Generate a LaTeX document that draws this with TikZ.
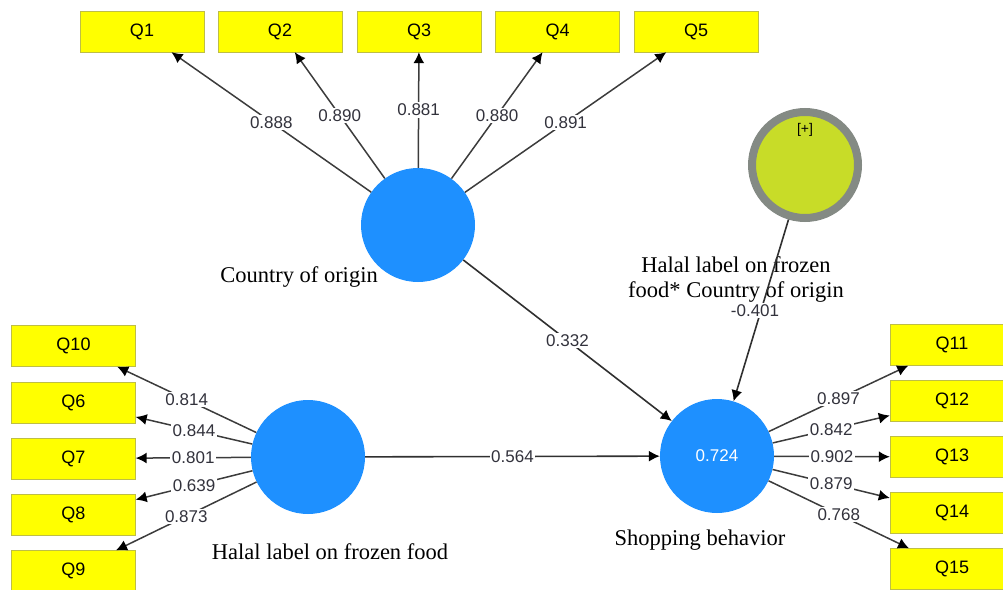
\documentclass[tikz,border=0pt]{standalone}
\usepackage{fontspec}
\setmainfont{Liberation Serif}
\newfontfamily\plsfont{Liberation Sans}
\usetikzlibrary{positioning, arrows.meta}
\definecolor{lvblue}{RGB}{30,144,255}
\definecolor{itemyellow}{RGB}{255,255,0}
\definecolor{itemborder}{RGB}{190,190,70}
\definecolor{modgreen}{RGB}{200,220,40}
\definecolor{modring}{RGB}{132,138,132}
\definecolor{edgegray}{RGB}{60,60,60}
\definecolor{lblgray}{RGB}{50,50,60}
\tikzset{
  itembox/.style={draw=itemborder, thin, fill=itemyellow, minimum width=124pt, minimum height=41pt,
    inner sep=0pt, font=\plsfont\fontsize{18}{18}\selectfont},
  lvnode/.style={circle, fill=lvblue, minimum size=114pt, inner sep=0pt,
    text=white, font=\plsfont\fontsize{17}{17}\selectfont},
  modnode/.style={circle, fill=modgreen, draw=modring, line width=8pt, minimum size=106pt, inner sep=0pt},
  lvlabel/.style={font=\fontsize{22.5}{25}\selectfont, align=center},
  loadedge/.style={draw=edgegray, line width=1.5pt, -{Latex[length=11pt, width=11pt, color=black]}},
  pathedge/.style={draw=edgegray!80!black, line width=1.6pt, -{Latex[length=11pt, width=11pt, color=black]}},
  coefnode/.style={fill=white, inner sep=1.5pt, text=lblgray, font=\plsfont\fontsize{17}{17}\selectfont}
}
\begin{document}
\begin{tikzpicture}[x=1pt, y=-1pt]
  \useasboundingbox (0,0) rectangle (1003,589);
  % indicators
  \node[itembox] (q1) at (142,31.5) {Q1};
  \node[itembox] (q2) at (280,31.5) {Q2};
  \node[itembox] (q3) at (419,31.5) {Q3};
  \node[itembox] (q4) at (557.5,31.5) {Q4};
  \node[itembox] (q5) at (696,31.5) {Q5};
  \node[itembox] (q10) at (73.5,346) {Q10};
  \node[itembox] (q6) at (73.5,402.5) {Q6};
  \node[itembox] (q7) at (73.5,458.5) {Q7};
  \node[itembox] (q8) at (73.5,515) {Q8};
  \node[itembox] (q9) at (73.5,571) {Q9};
  \node[itembox] (q11) at (952,345) {Q11};
  \node[itembox] (q12) at (952,401) {Q12};
  \node[itembox] (q13) at (952,457) {Q13};
  \node[itembox] (q14) at (952,513) {Q14};
  \node[itembox] (q15) at (952,569) {Q15};
  % constructs
  \node[lvnode] (coo) at (418,225) {};
  \node[lvnode] (hl) at (308,457) {};
  \node[lvnode] (sb) at (717,456) {0.724};
  \node[modnode] (mod) at (805,165) {};
  \node[font=\plsfont\fontsize{14}{14}\selectfont] (modtag) at (805,130) {[+]};
  \node[lvlabel] (cootxt) at (299,277) {Country of origin};
  \node[lvlabel] (hltxt) at (330,552) {Halal label on frozen food};
  \node[lvlabel] (sbtxt) at (700,540) {Shopping behavior};
  \node[lvlabel] (modtxt) at (736,280) {Halal label on frozen\\food* Country of origin};
  % loadings
  \draw[loadedge] (coo) -- node[coefnode] {0.888} (q1);
  \draw[loadedge] (coo) -- node[coefnode] {0.890} (q2);
  \draw[loadedge] (coo) -- node[coefnode] {0.881} (q3);
  \draw[loadedge] (coo) -- node[coefnode] {0.880} (q4);
  \draw[loadedge] (coo) -- node[coefnode] {0.891} (q5);
  \draw[loadedge] (hl) -- node[coefnode] {0.814} (q10);
  \draw[loadedge] (hl) -- node[coefnode] {0.844} (q6);
  \draw[loadedge] (hl) -- node[coefnode] {0.801} (q7);
  \draw[loadedge] (hl) -- node[coefnode] {0.639} (q8);
  \draw[loadedge] (hl) -- node[coefnode] {0.873} (q9);
  \draw[loadedge] (sb) -- node[coefnode] {0.897} (q11);
  \draw[loadedge] (sb) -- node[coefnode] {0.842} (q12);
  \draw[loadedge] (sb) -- node[coefnode] {0.902} (q13);
  \draw[loadedge] (sb) -- node[coefnode] {0.879} (q14);
  \draw[loadedge] (sb) -- node[coefnode] {0.768} (q15);
  % paths
  \draw[pathedge] (coo) -- node[coefnode] {0.332} (sb);
  \draw[pathedge] (hl) -- node[coefnode] {0.564} (sb);
  \draw[pathedge] (mod) -- node[coefnode, xshift=-6pt] {-0.401} (sb);
\end{tikzpicture}
\end{document}
